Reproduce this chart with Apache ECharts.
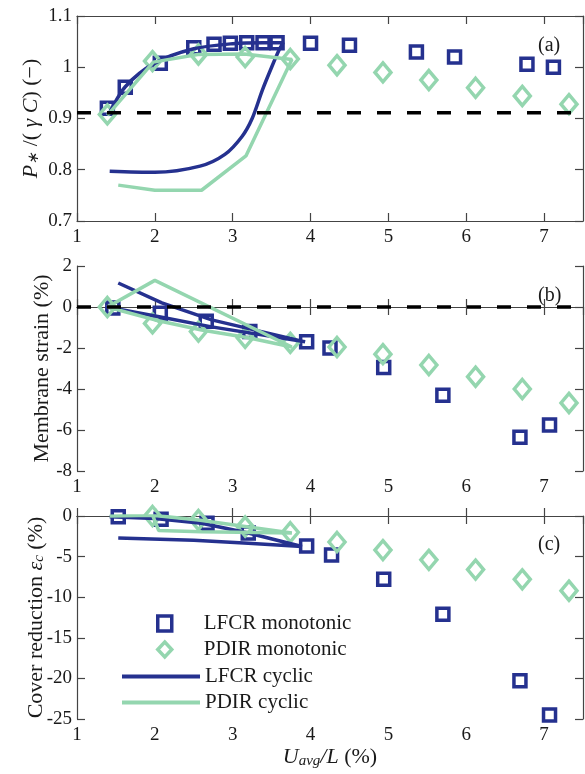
<!DOCTYPE html>
<html>
<head>
<meta charset="utf-8">
<script src="https://cdn.jsdelivr.net/npm/echarts@6/dist/echarts.min.js"></script>
<style>
  html, body { margin: 0; padding: 0; background: #fff; }
  #chart { width: 585px; height: 774px; }
</style>
</head>
<body>
<div id="chart"></div>
<script>
// axis ranges / tick steps
const xRange = [1, 7.5]
const pRange = [0.7, 1.1, 0.1]
const strainRange = [-8, 2, 2]
const coverRange = [-25, 0, 5]
const refP = 0.911
const refStrain = 0

// (a) normalised pressure
const lfcrMonoXa = [1.39, 1.62, 2.07, 2.5, 2.76, 2.97, 3.18, 3.39, 3.57, 4.0, 4.5, 5.36, 5.85, 6.78, 7.12]
const lfcrMonoP = [0.92, 0.961, 1.008, 1.038, 1.045, 1.047, 1.048, 1.048, 1.048, 1.047, 1.043, 1.03, 1.02, 1.006, 1.0]
const pdirMonoXa = [1.39, 1.97, 2.56, 3.16, 3.74, 4.34, 4.93, 5.52, 6.12, 6.72, 7.32]
const pdirMonoP = [0.908, 1.012, 1.025, 1.02, 1.016, 1.004, 0.99, 0.975, 0.96, 0.944, 0.928]
const lfcrCycXa = [1.42, 2.0, 2.58, 2.9, 3.12, 3.25, 3.38, 3.5, 3.6, 3.65, 3.4, 3.0, 2.5, 2.0, 1.62, 1.4]
const lfcrCycP = [0.797, 0.795, 0.807, 0.83, 0.865, 0.9, 0.955, 1.0, 1.035, 1.048, 1.048, 1.046, 1.036, 1.008, 0.962, 0.906]
const pdirCycXa = [1.53, 2.0, 2.6, 3.17, 3.76, 3.15, 2.55, 1.98, 1.39]
const pdirCycP = [0.77, 0.76, 0.76, 0.827, 1.015, 1.026, 1.025, 1.01, 0.906]

// (b) membrane strain
const lfcrMonoXb = [1.46, 2.07, 2.66, 3.22, 3.95, 4.25, 4.94, 5.7, 6.69, 7.07]
const lfcrMonoStrain = [-0.05, -0.3, -0.7, -1.2, -1.7, -2.0, -2.95, -4.3, -6.35, -5.75]
const pdirMonoXb = [1.39, 1.97, 2.56, 3.16, 3.74, 4.34, 4.93, 5.52, 6.12, 6.72, 7.32]
const pdirMonoStrain = [0, -0.8, -1.2, -1.5, -1.75, -1.95, -2.3, -2.83, -3.4, -4.0, -4.68]
const lfcrCycXb = [1.53, 2.09, 2.73, 3.93, 2.73, 2.09, 1.42]
const lfcrCycStrain = [1.17, 0.2, -0.63, -1.7, -0.97, -0.5, -0.02]
const pdirCycXb = [1.39, 2.0, 3.76, 3.2, 2.6, 2.0, 1.39]
const pdirCycStrain = [0, 1.3, -1.95, -1.5, -1.12, -0.63, 0]

// (c) cover reduction
const lfcrMonoXc = [1.53, 2.08, 2.67, 3.2, 3.95, 4.27, 4.94, 5.7, 6.69, 7.07]
const lfcrMonoCover = [-0.1, -0.4, -0.9, -2.1, -3.7, -4.8, -7.8, -12.1, -20.3, -24.5]
const pdirMonoXc = [1.97, 2.56, 3.16, 3.74, 4.34, 4.93, 5.52, 6.12, 6.72, 7.32]
const pdirMonoCover = [0, -0.5, -1.3, -2.0, -3.2, -4.2, -5.4, -6.6, -7.8, -9.2]
const lfcrCycXc = [1.53, 2.5, 3.2, 3.89, 3.2, 2.6, 2.0, 1.42]
const lfcrCycCover = [-2.7, -3.0, -3.35, -3.75, -2.1, -0.9, -0.3, -0.1]
const pdirCycXc = [1.42, 1.97, 2.56, 3.16, 3.76, 2.6, 2.05, 1.97]
const pdirCycCover = [0, 0.1, -0.5, -1.3, -2.1, -1.95, -1.8, 0.1]

const BLUE = '#25318f'
const GREEN = '#94d6af'
const FONT = 'Liberation Serif'
const TXT = '#1a1a1a'

function zip(xs, ys) {
  return xs.map((x, i) => [x, ys[i]])
}

const grids = [
  { left: 77, top: 16, width: 506, height: 205 },
  { left: 77, top: 266, width: 506, height: 205 },
  { left: 77, top: 516, width: 506, height: 203 }
]

const frame = { show: true, lineStyle: { color: '#444', width: 1.2 } }
const tick = { show: true, inside: true, length: 8, lineStyle: { color: '#444', width: 1.2 } }

const xAxes = []
grids.forEach((g, i) => {
  const bottom = {
    type: 'value', gridIndex: i, min: xRange[0], max: xRange[1], interval: 1,
    axisLine: frame, axisTick: tick, splitLine: { show: false },
    axisLabel: { color: TXT, fontFamily: FONT, fontSize: 19, margin: 7, showMaxLabel: false }
  }
  if (i === 2) {
    bottom.name = '{i|U}{s|avg}{i|/L} (%)'
    bottom.nameLocation = 'middle'
    bottom.nameGap = 26
    bottom.nameMoveOverlap = false
    bottom.nameTextStyle = {
      color: TXT, fontFamily: FONT, fontSize: 22,
      rich: {
        i: { fontFamily: FONT, fontSize: 22, fontStyle: 'italic', color: TXT },
        s: { fontFamily: FONT, fontSize: 15, fontStyle: 'italic', color: TXT, verticalAlign: 'bottom', padding: [9, 0, 0, 0] }
      }
    }
  }
  xAxes.push(bottom)
  xAxes.push({
    type: 'value', gridIndex: i, position: 'top', min: xRange[0], max: xRange[1], interval: 1,
    axisLine: frame, axisTick: tick, axisLabel: { show: false }, splitLine: { show: false }
  })
})

const yRanges = [pRange, strainRange, coverRange]
const yNames = [
  '{i|P}{s|∗} /( {i|γ} {i|C}) (−)',
  'Membrane strain (%)',
  'Cover reduction {i|ε}{s|c} (%)'
]
const yNameGaps = [35, 24, 30]
const nameRich = {
  i: { fontFamily: FONT, fontSize: 22, fontStyle: 'italic', color: TXT },
  s: { fontFamily: FONT, fontSize: 15, fontStyle: 'italic', color: TXT, verticalAlign: 'bottom' }
}
const yAxes = []
grids.forEach((g, i) => {
  const r = yRanges[i]
  yAxes.push({
    type: 'value', gridIndex: i, min: r[0], max: r[1], interval: r[2],
    axisLine: frame, axisTick: tick, splitLine: { show: false },
    axisLabel: { color: TXT, fontFamily: FONT, fontSize: 19, margin: 5 },
    name: yNames[i], nameLocation: 'middle', nameGap: yNameGaps[i], nameMoveOverlap: false,
    nameTextStyle: { color: TXT, fontFamily: FONT, fontSize: 22, rich: nameRich }
  })
  yAxes.push({
    type: 'value', gridIndex: i, position: 'right', min: r[0], max: r[1], interval: r[2],
    axisLine: frame, axisTick: tick, axisLabel: { show: false }, splitLine: { show: false }
  })
})

function squares(name, xs, ys, k) {
  return {
    name: name, type: 'scatter', xAxisIndex: 2 * k, yAxisIndex: 2 * k,
    symbol: 'rect', symbolSize: 12,
    itemStyle: { color: 'rgba(255,255,255,0)', borderColor: BLUE, borderWidth: 3.5, opacity: 1 },
    data: zip(xs, ys)
  }
}
function diamonds(name, xs, ys, k) {
  return {
    name: name, type: 'scatter', xAxisIndex: 2 * k, yAxisIndex: 2 * k,
    symbol: 'diamond', symbolSize: [16, 19],
    itemStyle: { color: 'rgba(255,255,255,0)', borderColor: GREEN, borderWidth: 3.5, opacity: 1 },
    data: zip(xs, ys)
  }
}
function curve(name, xs, ys, k, color, smooth) {
  return {
    name: name, type: 'line', xAxisIndex: 2 * k, yAxisIndex: 2 * k,
    symbol: 'none', smooth: smooth || false,
    itemStyle: { color: color },
    lineStyle: { color: color, width: 3.5 },
    data: zip(xs, ys)
  }
}
function refLine(y, k) {
  return {
    type: 'line', xAxisIndex: 2 * k, yAxisIndex: 2 * k, symbol: 'none', silent: true,
    lineStyle: { color: '#000', width: 3.5, type: [14, 16] },
    data: [[xRange[0], y], [xRange[1], y]]
  }
}

const labelStyle = { fontFamily: FONT, fontSize: 20, fontWeight: 'normal', color: TXT }

const chart = echarts.init(document.getElementById('chart'), null, { renderer: 'canvas' })

chart.setOption({
  animation: false,
  backgroundColor: '#fff',
  title: [
    { text: '(a)', left: 533, top: 31, textStyle: labelStyle },
    { text: '(b)', left: 533, top: 281, textStyle: labelStyle },
    { text: '(c)', left: 533, top: 530, textStyle: labelStyle }
  ],
  legend: [
    {
      data: ['LFCR monotonic', 'PDIR monotonic'], orient: 'vertical',
      left: 151, top: 608, itemWidth: 14, itemHeight: 15, itemGap: 5,
      itemStyle: { borderWidth: 3.5, opacity: 1 },
      textStyle: { fontFamily: FONT, fontSize: 21, color: TXT, lineHeight: 21, padding: [0, 0, 0, 27] }
    },
    {
      data: ['LFCR cyclic', 'PDIR cyclic'], orient: 'vertical', icon: 'rect',
      left: 117, top: 661, itemWidth: 78, itemHeight: 4, itemGap: 5,
      textStyle: { fontFamily: FONT, fontSize: 21, color: TXT, lineHeight: 21 }
    }
  ],
  grid: grids,
  xAxis: xAxes,
  yAxis: yAxes,
  series: [
    squares('LFCR monotonic', lfcrMonoXa, lfcrMonoP, 0),
    diamonds('PDIR monotonic', pdirMonoXa, pdirMonoP, 0),
    curve('LFCR cyclic', lfcrCycXa, lfcrCycP, 0, BLUE, 0.3),
    curve('PDIR cyclic', pdirCycXa, pdirCycP, 0, GREEN),
    refLine(refP, 0),

    squares('LFCR monotonic', lfcrMonoXb, lfcrMonoStrain, 1),
    diamonds('PDIR monotonic', pdirMonoXb, pdirMonoStrain, 1),
    curve('LFCR cyclic', lfcrCycXb, lfcrCycStrain, 1, BLUE),
    curve('PDIR cyclic', pdirCycXb, pdirCycStrain, 1, GREEN),
    refLine(refStrain, 1),

    squares('LFCR monotonic', lfcrMonoXc, lfcrMonoCover, 2),
    diamonds('PDIR monotonic', pdirMonoXc, pdirMonoCover, 2),
    curve('LFCR cyclic', lfcrCycXc, lfcrCycCover, 2, BLUE),
    curve('PDIR cyclic', pdirCycXc, pdirCycCover, 2, GREEN)
  ]
})
</script>
</body>
</html>
